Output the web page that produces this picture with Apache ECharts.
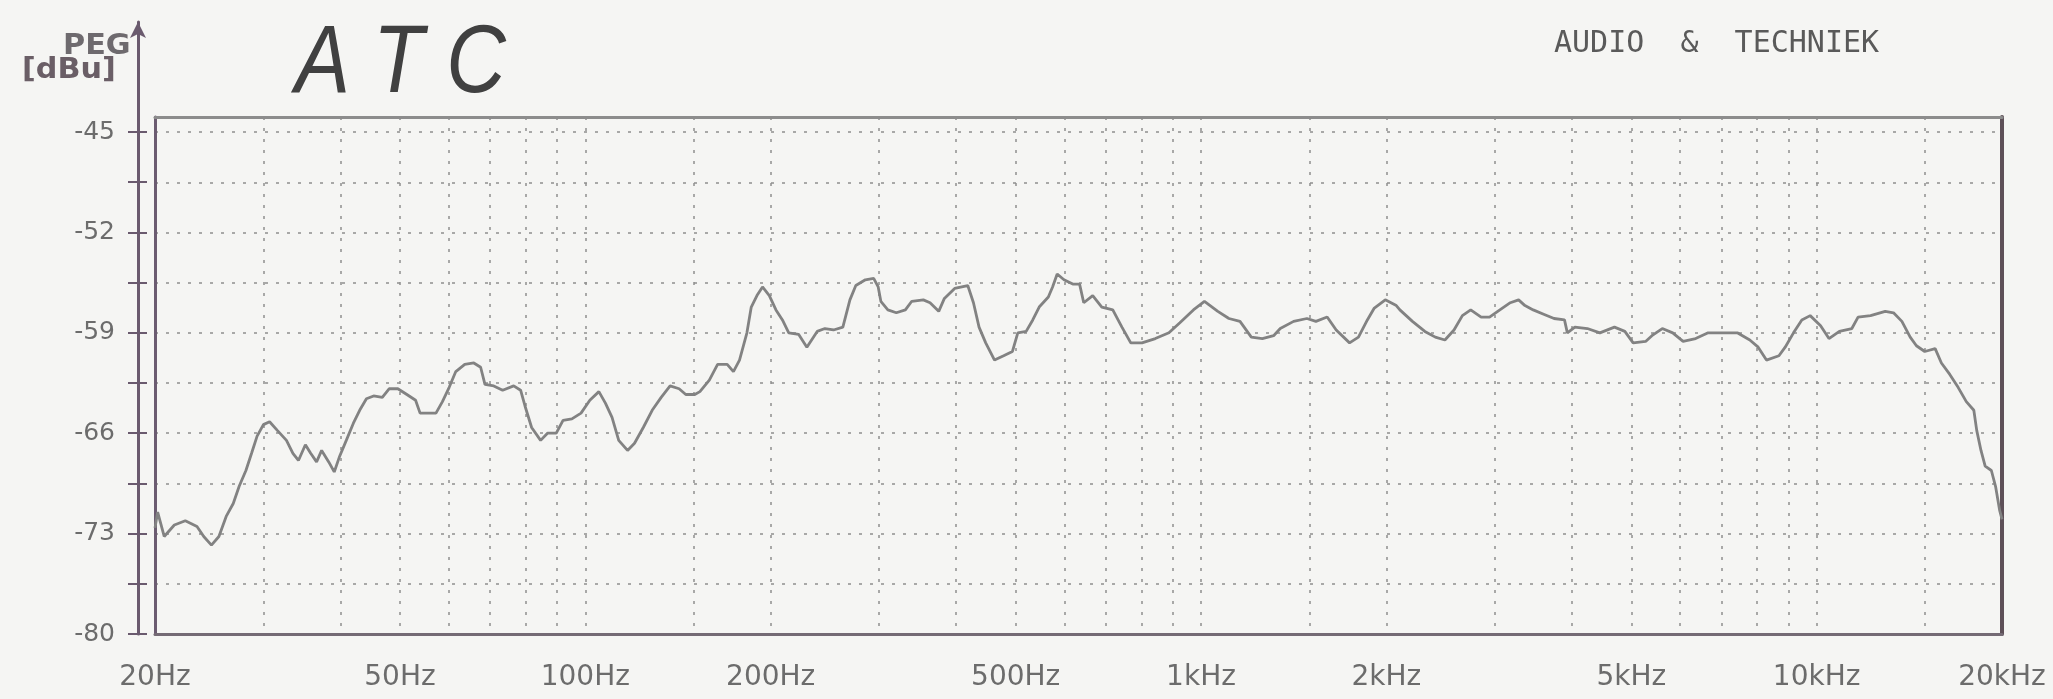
<!DOCTYPE html>
<html><head><meta charset="utf-8">
<script src="https://cdn.jsdelivr.net/npm/echarts@6/dist/echarts.min.js"></script>
<style>html,body{margin:0;padding:0;background:#f5f5f3}#c{width:2053px;height:699px}</style>
</head><body><div id="c"></div>
<script>
// Frequency (Hz) of each traced point of the response curve
const freqHz = [20,20.2,20.7,21.5,22.4,23.4,24,24.7,25.4,26.1,26.8,27.4,28.1,28.7,29.3,30,30.7,31.6,32.7,33.5,34.2,35.1,35.8,36.6,37.3,38.3,39.1,39.9,40.9,42,43,44.1,45.3,46.8,48,49.6,51.3,53,53.9,57.2,58.6,60.1,61.6,63.7,65.9,67.6,68.7,71,73.4,76.5,78.5,79.8,81.8,84.6,86.8,89.7,92,95.1,98.4,101.7,105.2,107.8,110.5,113.3,117.1,120.2,124.2,128.4,132.8,137.3,142,145.6,150.6,153.5,
159,164,170,174,178,183,186,190,194,199,204,209,214,222,229,238,245,253,262,269,275,285,294,299,302,310,320,331,339,354,363,375,383,398,418,427,436,447,462,478,494,504,520,533,546,565,574,584,599,619,635,645,667,690,719,744,769,802,843,887,924,972,1013,1065,1110,1157,1207,1258,1312,1345,1414,1486,1537,1603,1658,1743,1802,1863,1910,1992,2076,
2104,2205,2310,2402,2490,2576,2658,2742,2851,2942,3058,3180,3280,3359,3464,3602,3745,3894,3936,4048,4242,4445,4694,4880,5034,5274,5400,5614,5837,6068,6360,6664,7038,7432,7788,8035,8288,8684,8889,9170,9460,9760,10148,10471,10886,11406,11675,12233,12922,13330,13754,14188,14522,14982,15577,15944,16452,16972,17500,18000,18196,18488,18780,19221,19523,19830,20000];
// Level (dBu) at each of those frequencies
const levelDbu = [-72.6,-71.5,-73.2,-72.4,-72.1,-72.5,-73.2,-73.8,-73.2,-71.8,-70.9,-69.7,-68.6,-67.4,-66.2,-65.4,-65.2,-65.8,-66.5,-67.4,-67.9,-66.8,-67.4,-68,-67.2,-68,-68.7,-67.6,-66.5,-65.3,-64.4,-63.6,-63.4,-63.5,-62.9,-62.9,-63.3,-63.7,-64.6,-64.6,-63.8,-62.8,-61.7,-61.2,-61.1,-61.4,-62.6,-62.7,-63,-62.7,-63,-64.1,-65.6,-66.5,-66,-66,-65.1,-65,-64.6,-63.7,-63.1,-63.9,-64.9,-66.5,-67.2,-66.7,-65.6,-64.4,-63.5,-62.7,-62.9,-63.3,-63.3,-63.1,
-62.3,-61.2,-61.2,-61.7,-60.9,-59,-57.2,-56.4,-55.8,-56.4,-57.4,-58.1,-59,-59.1,-60,-58.9,-58.7,-58.8,-58.6,-56.7,-55.7,-55.3,-55.2,-55.8,-56.8,-57.4,-57.6,-57.4,-56.8,-56.7,-56.9,-57.5,-56.6,-55.9,-55.7,-56.9,-58.6,-59.7,-60.9,-60.6,-60.3,-59,-58.9,-58.1,-57.2,-56.5,-55.8,-54.9,-55.3,-55.6,-55.6,-56.9,-56.4,-57.2,-57.4,-58.6,-59.7,-59.7,-59.4,-59,-58.3,-57.4,-56.8,-57.5,-58,-58.2,-59.3,-59.4,-59.2,-58.7,-58.2,-58,-58.2,-57.9,-58.8,-59.7,-59.3,-58.1,-57.3,-56.7,-57.1,
-57.4,-58.2,-58.9,-59.3,-59.5,-58.8,-57.8,-57.4,-57.9,-57.9,-57.4,-56.9,-56.7,-57.1,-57.4,-57.7,-58,-58.1,-59,-58.6,-58.7,-59,-58.6,-58.9,-59.7,-59.6,-59.2,-58.7,-59,-59.6,-59.4,-59,-59,-59,-59.5,-60,-60.9,-60.6,-60,-59,-58.1,-57.8,-58.5,-59.4,-58.9,-58.7,-57.9,-57.8,-57.5,-57.6,-58.2,-59.3,-59.9,-60.3,-60.1,-61.1,-61.9,-62.8,-63.8,-64.4,-65.8,-67.2,-68.3,-68.6,-69.7,-71.4,-72];
// Vertical dotted grid lines
const gridFreqs = [20,30,40,50,60,70,80,90,100,150,200,300,400,500,600,700,800,900,1000,1500,2000,3000,4000,5000,6000,7000,8000,9000,10000,15000,20000];
// Frequency tick labels
const labelFreqs = [20,50,100,200,500,1000,2000,5000,10000,20000];
const labelNames = ['20Hz','50Hz','100Hz','200Hz','500Hz','1kHz','2kHz','5kHz','10kHz','20kHz'];
// Level axis ticks and labels
const yTickValues = [-80,-76.5,-73,-69.5,-66,-62.5,-59,-55.5,-52,-48.5,-45];
const yLabelValues = [-80,-73,-66,-59,-52,-45];

const chart = echarts.init(document.getElementById('c'), null, {renderer:'canvas'});
const gridColor = '#8e8e8e';
const axisPurple = '#6a5a6e';

function freqName(v){
  for (let i=0;i<labelFreqs.length;i++){ if (Math.abs(labelFreqs[i]-v)/labelFreqs[i] < 1e-3) return labelNames[i]; }
  return '';
}

const option = {
  backgroundColor:'#f5f5f3',
  animation:false,
  graphic:[
    {type:'text', x:63, y:33, scaleX:1.08, style:{text:'PEG', font:'bold 28px "DejaVu Sans"', fill:'#6e6a6e', verticalAlign:'top'}},
    {type:'text', x:22, y:57, scaleX:1.08, style:{text:'[dBu]', font:'bold 28px "DejaVu Sans"', fill:'#6a5e66', verticalAlign:'top'}},
    {type:'text', x:295, y:17, scaleX:0.86, style:{text:'A T C', font:'italic 96px "Liberation Sans"', fill:'#404040', verticalAlign:'top'}},
    {type:'text', x:1554, y:29, style:{text:'AUDIO  &  TECHNIEK', font:'30px "DejaVu Sans Mono"', fill:'#5a5a5a', verticalAlign:'top'}}
  ],
  grid:[
    {left:155, right:51, top:117, bottom:65, show:false},
    {left:138, width:10, top:22, bottom:65, show:false}
  ],
  xAxis:[
    {gridIndex:0, type:'log', logBase:10, min:20, max:20000, position:'bottom',
     axisLine:{show:true, onZero:false, lineStyle:{color:'#746a74', width:3}},
     axisTick:{show:false, customValues:gridFreqs},
     splitLine:{show:true, lineStyle:{color:gridColor, width:1.5, type:[3,8]}},
     axisLabel:{show:true, customValues:labelFreqs, margin:30, formatter:v=>freqName(v),
                fontFamily:'DejaVu Sans', fontSize:28, color:'#6c6c6c'}},
    {gridIndex:0, type:'log', logBase:10, min:20, max:20000, position:'top',
     axisLine:{show:true, onZero:false, lineStyle:{color:'#8c8c8c', width:3}},
     axisTick:{show:false}, splitLine:{show:false}, axisLabel:{show:false}},
    {gridIndex:1, type:'value', show:false, min:0, max:1}
  ],
  yAxis:[
    {gridIndex:0, type:'value', min:-80, max:-43.95, interval:3.5, position:'left',
     axisLine:{show:true, onZero:false, lineStyle:{color:'#6b5b70', width:3}},
     axisTick:{show:false}, axisLabel:{show:false},
     splitLine:{show:true, lineStyle:{color:gridColor, width:1.5, type:[3,8]}}},
    {gridIndex:0, type:'value', min:-80, max:-43.95, position:'right',
     axisLine:{show:true, onZero:false, lineStyle:{color:'#5e5058', width:4}},
     axisTick:{show:false}, axisLabel:{show:false}, splitLine:{show:false}},
    {gridIndex:1, type:'value', min:-80, max:-37.33, position:'left',
     axisLine:{show:true, onZero:false, symbol:['none','arrow'], symbolSize:[12,16], lineStyle:{color:axisPurple, width:3}},
     axisTick:{show:true, customValues:yTickValues, length:10, lineStyle:{color:axisPurple, width:2}},
     axisLabel:{show:true, customValues:yLabelValues, margin:23, formatter:v=>String(v),
                fontFamily:'DejaVu Sans', fontSize:25, color:'#6c6c6c'},
     splitLine:{show:false}},
    {gridIndex:1, type:'value', min:-80, max:-37.33, position:'left',
     axisLine:{show:false},
     axisTick:{show:true, inside:true, customValues:yTickValues, length:9, lineStyle:{color:axisPurple, width:2}},
     axisLabel:{show:false}, splitLine:{show:false}}
  ],
  series:[{
    type:'line', xAxisIndex:0, yAxisIndex:0, showSymbol:false, symbol:'none',
    lineStyle:{color:'#828282', width:2.8}, z:5,
    data: freqHz.map((f,i)=>[f, levelDbu[i]])
  }]
};
chart.setOption(option);
</script></body></html>
